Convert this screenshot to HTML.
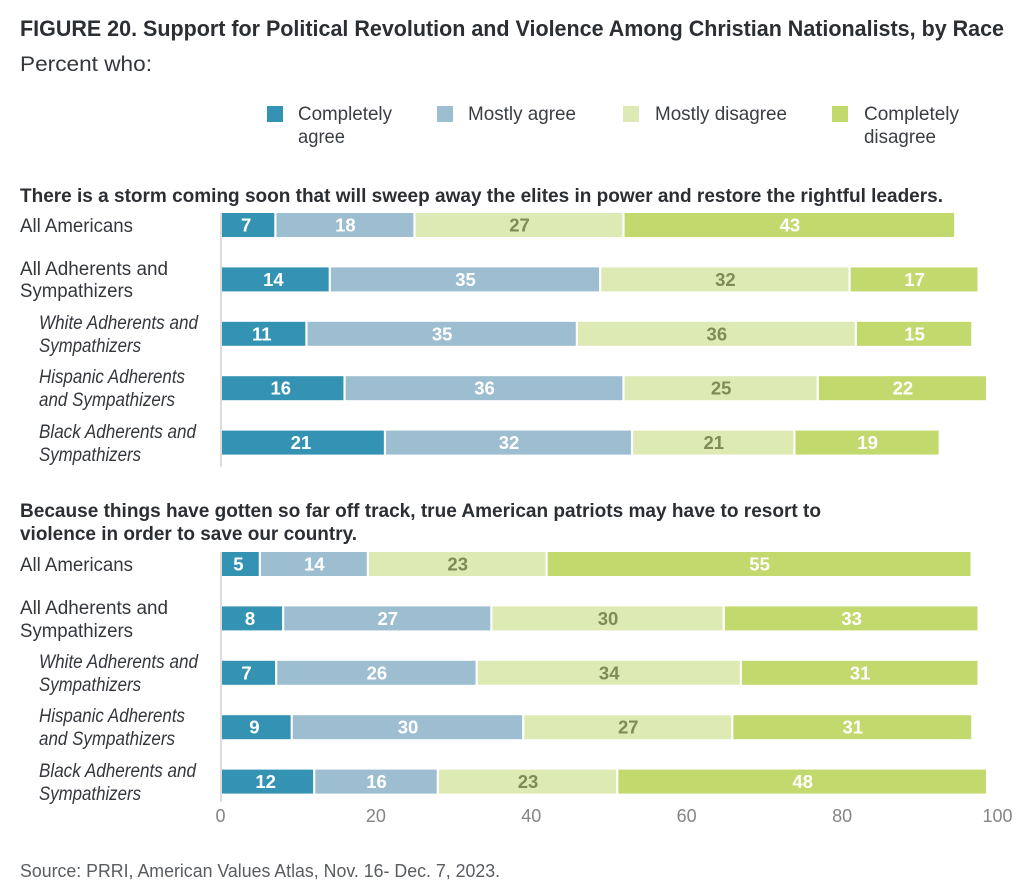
<!DOCTYPE html>
<html lang="en">
<head>
<meta charset="utf-8">
<title>Figure 20</title>
<style>
html,body{margin:0;padding:0;background:#fff}
svg{display:block}
text{font-family:"Liberation Sans","DejaVu Sans",sans-serif}
.t{font-size:22px;font-weight:700;fill:#2b2e33}
.p{font-size:21.5px;fill:#33373c}
.l{font-size:19.5px;fill:#3a3e43}
.s{font-size:19px;font-weight:700;fill:#2b2e33}
.c{font-size:19px;fill:#33373c}
.i{font-size:19px;font-style:italic;fill:#33373c}
.src{font-size:18.5px;fill:#595d61}
</style>
</head>
<body>
<svg id="chart" xmlns="http://www.w3.org/2000/svg" width="1033" height="896" viewBox="0 0 1033 896">
<rect width="1033" height="896" fill="#ffffff"/>
<text class="t" x="20" y="36" textLength="984" lengthAdjust="spacingAndGlyphs">FIGURE 20. Support for Political Revolution and Violence Among Christian Nationalists, by Race</text>
<text class="p" x="20" y="71" textLength="132" lengthAdjust="spacingAndGlyphs">Percent who:</text>

<g>
<rect x="267" y="106" width="16" height="16" fill="#3493b3"/>
<text class="l" x="298" y="120" textLength="94" lengthAdjust="spacingAndGlyphs">Completely</text>
<text class="l" x="298" y="143" textLength="47" lengthAdjust="spacingAndGlyphs">agree</text>
<rect x="437" y="106" width="16" height="16" fill="#9dbdd1"/>
<text class="l" x="468" y="120" textLength="108" lengthAdjust="spacingAndGlyphs">Mostly agree</text>
<rect x="623" y="106" width="16" height="16" fill="#deeab3"/>
<text class="l" x="655" y="120" textLength="132" lengthAdjust="spacingAndGlyphs">Mostly disagree</text>
<rect x="832" y="106" width="16" height="16" fill="#c2d96d"/>
<text class="l" x="864" y="120" textLength="95" lengthAdjust="spacingAndGlyphs">Completely</text>
<text class="l" x="864" y="143" textLength="72" lengthAdjust="spacingAndGlyphs">disagree</text>
</g>

<text class="s" x="20" y="202" textLength="923" lengthAdjust="spacingAndGlyphs">There is a storm coming soon that will sweep away the elites in power and restore the rightful leaders.</text>
<text class="s" x="20" y="517" textLength="801" lengthAdjust="spacingAndGlyphs">Because things have gotten so far off track, true American patriots may have to resort to</text>
<text class="s" x="20" y="540" textLength="337" lengthAdjust="spacingAndGlyphs">violence in order to save our country.</text>

<g>
<text class="c" x="20" y="232" textLength="113" lengthAdjust="spacingAndGlyphs">All Americans</text>
<text class="c" x="20" y="275" textLength="148" lengthAdjust="spacingAndGlyphs">All Adherents and</text>
<text class="c" x="20" y="297" textLength="113" lengthAdjust="spacingAndGlyphs">Sympathizers</text>
<text class="i" x="39" y="329" textLength="159" lengthAdjust="spacingAndGlyphs">White Adherents and</text>
<text class="i" x="39" y="352" textLength="102" lengthAdjust="spacingAndGlyphs">Sympathizers</text>
<text class="i" x="39" y="383" textLength="146" lengthAdjust="spacingAndGlyphs">Hispanic Adherents</text>
<text class="i" x="39" y="406" textLength="136" lengthAdjust="spacingAndGlyphs">and Sympathizers</text>
<text class="i" x="39" y="438" textLength="157" lengthAdjust="spacingAndGlyphs">Black Adherents and</text>
<text class="i" x="39" y="461" textLength="102" lengthAdjust="spacingAndGlyphs">Sympathizers</text>
</g>
<g>
<text class="c" x="20" y="571" textLength="113" lengthAdjust="spacingAndGlyphs">All Americans</text>
<text class="c" x="20" y="614" textLength="148" lengthAdjust="spacingAndGlyphs">All Adherents and</text>
<text class="c" x="20" y="637" textLength="113" lengthAdjust="spacingAndGlyphs">Sympathizers</text>
<text class="i" x="39" y="668" textLength="159" lengthAdjust="spacingAndGlyphs">White Adherents and</text>
<text class="i" x="39" y="691" textLength="102" lengthAdjust="spacingAndGlyphs">Sympathizers</text>
<text class="i" x="39" y="722" textLength="146" lengthAdjust="spacingAndGlyphs">Hispanic Adherents</text>
<text class="i" x="39" y="745" textLength="136" lengthAdjust="spacingAndGlyphs">and Sympathizers</text>
<text class="i" x="39" y="777" textLength="157" lengthAdjust="spacingAndGlyphs">Black Adherents and</text>
<text class="i" x="39" y="800" textLength="102" lengthAdjust="spacingAndGlyphs">Sympathizers</text>
</g>

<rect x="220" y="213" width="2" height="254" fill="#dcdcdc"/>
<rect x="220" y="552" width="2" height="250" fill="#dcdcdc"/>
<g id="bars"></g>
<g id="ticks"></g>
<text class="src" x="20" y="877" textLength="480" lengthAdjust="spacingAndGlyphs">Source: PRRI, American Values Atlas, Nov. 16- Dec. 7, 2023.</text>
</svg>
<script>
var seriesNames = ['completely-agree', 'mostly-agree', 'mostly-disagree', 'completely-disagree'];
var categoryNames = ['all-americans', 'all-adherents', 'white-adherents', 'hispanic-adherents', 'black-adherents'];
var tickValues = [0, 20, 40, 60, 80, 100];

var stormCompletelyAgree = [7, 14, 11, 15.9, 21.1];
var stormMostlyAgree = [17.9, 34.8, 34.8, 35.9, 31.8];
var stormMostlyDisagree = [26.9, 32.1, 35.9, 25, 20.9];
var stormCompletelyDisagree = [42.7, 16.6, 15, 21.8, 18.7];

var violenceCompletelyAgree = [5, 8, 7.1, 9.1, 12];
var violenceMostlyAgree = [13.9, 26.8, 25.8, 29.8, 15.9];
var violenceMostlyDisagree = [23, 29.9, 34, 26.9, 23.1];
var violenceCompletelyDisagree = [54.7, 32.8, 30.6, 30.9, 47.6];

var NS = 'http://www.w3.org/2000/svg';
var colors = ['#3493b3', '#9dbdd1', '#deeab3', '#c2d96d'];
var labelColors = ['#ffffff', '#ffffff', '#7f8a58', '#ffffff'];
function xScale(v) { return 221 + v * 7.77; }
function rowTop(panelTop, i) { return panelTop + i * 54.4; }

function drawPanel(panelName, panelTop, panelSeries) {
  var barsGroup = document.getElementById('bars');
  for (var r = 0; r < categoryNames.length; r++) {
    var cum = 0;
    var top = rowTop(panelTop, r);
    for (var s = 0; s < panelSeries.length; s++) {
      var v = panelSeries[s][r];
      var x0 = xScale(cum);
      var x1 = xScale(cum + v);
      var rect = document.createElementNS(NS, 'rect');
      
      
      rect.setAttribute('x', s === 0 ? x0 + 1 : x0 + 1.1);
      rect.setAttribute('y', top);
      rect.setAttribute('width', s === 0 ? x1 - x0 - 2.1 : x1 - x0 - 2.2);
      rect.setAttribute('height', 24);
      rect.setAttribute('fill', colors[s]);
      barsGroup.appendChild(rect);

      var label = document.createElementNS(NS, 'text');
      
      
      label.setAttribute('x', (x0 + x1) / 2 + (s === 0 ? -2 : 0.5));
      label.setAttribute('y', top + 18.5);
      label.setAttribute('text-anchor', 'middle');
      label.setAttribute('font-size', '18.5');
      label.setAttribute('font-weight', '700');
      label.setAttribute('fill', labelColors[s]);
      label.textContent = String(Math.round(v));
      barsGroup.appendChild(label);
      cum += v;
    }
  }
}

drawPanel('storm', 213, [stormCompletelyAgree, stormMostlyAgree, stormMostlyDisagree, stormCompletelyDisagree]);
drawPanel('violence', 552, [violenceCompletelyAgree, violenceMostlyAgree, violenceMostlyDisagree, violenceCompletelyDisagree]);

var ticksGroup = document.getElementById('ticks');
tickValues.forEach(function (t) {
  var tick = document.createElementNS(NS, 'text');
  
  
  tick.setAttribute('x', xScale(t) - 0.5);
  tick.setAttribute('y', 822);
  tick.setAttribute('text-anchor', 'middle');
  tick.setAttribute('font-size', '18');
  tick.setAttribute('fill', '#858585');
  tick.textContent = String(t);
  ticksGroup.appendChild(tick);
});
</script>
</body>
</html>
